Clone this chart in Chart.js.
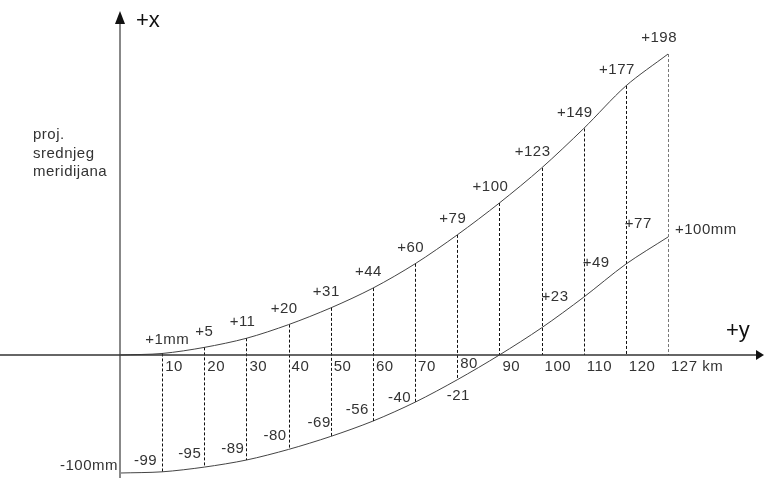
<!DOCTYPE html>
<html>
<head>
<meta charset="utf-8">
<script src="https://cdn.jsdelivr.net/npm/chart.js@4"></script>
<style>
  html, body { margin: 0; padding: 0; background: #fff; }
  #wrap { width: 764px; height: 478px; }
</style>
</head>
<body>
<div id="wrap"><canvas id="myChart" width="764" height="478"></canvas></div>
<script>
// udaljenost od srednjeg meridijana (km)
const udaljenost = ['0', '10', '20', '30', '40', '50', '60', '70', '80', '90', '100', '110', '120', '127'];
// gornja krivulja (mm)
const gornja = [0, 1, 5, 11, 20, 31, 44, 60, 79, 100, 123, 149, 177, 198];
// donja krivulja (mm)
const donja = [-100, -99, -95, -89, -80, -69, -56, -40, -21, 0, 23, 49, 77, 100];
// natpisi
const natpisiGornja = ['', '+1mm', '+5', '+11', '+20', '+31', '+44', '+60', '+79', '+100', '+123', '+149', '+177', '+198'];
const natpisiDonja = ['-100mm', '-99', '-95', '-89', '-80', '-69', '-56', '-40', '-21', '', '+23', '+49', '+77', '+100mm'];
const natpisiOsi = ['', '10', '20', '30', '40', '50', '60', '70', '80', '90', '100', '110', '120', '127 km'];

// smjestaj natpisa donje krivulje: [poravnanje, dx, dy]
const smjestajDonja = [
    ['right', -2, -7], ['right', -5, -11], ['right', -3, -13], ['right', -2, -11],
    ['right', -2, -14], ['right', 0, -14], ['right', -4, -11], ['right', -4, -4],
    ['center', 1, 16], ['left', 0, 0], ['left', 0, -31], ['left', -1, -34],
    ['left', -1, -40], ['left', 7, -7]
];

const FONT = '15px "Liberation Sans", Arial, sans-serif';
const BOJA_TEKSTA = '#333';

// crta osi, isprekidane linije i natpise
const skica = {
    id: 'skica',
    afterDatasetsDraw(chart) {
        const ctx = chart.ctx;
        const xs = chart.scales.x;
        const ys = chart.scales.y;
        const ys2 = chart.scales.y2;
        const x0 = xs.getPixelForValue(0);
        const y0 = ys.getPixelForValue(0);

        ctx.save();

        // isprekidane okomice
        ctx.lineWidth = 1;
        ctx.setLineDash([3, 2]);
        for (let i = 1; i < udaljenost.length; i++) {
            const x = Math.round(xs.getPixelForValue(i)) + 0.5;
            ctx.strokeStyle = i === udaljenost.length - 1 ? '#777' : '#111';
            ctx.beginPath();
            ctx.moveTo(x, ys.getPixelForValue(gornja[i]));
            ctx.lineTo(x, ys2.getPixelForValue(Math.min(donja[i], 0)));
            ctx.stroke();
        }
        ctx.setLineDash([]);

        // os +x (okomita)
        ctx.strokeStyle = '#888';
        ctx.lineWidth = 2;
        ctx.beginPath();
        ctx.moveTo(x0, chart.height);
        ctx.lineTo(x0, 20);
        ctx.stroke();
        ctx.fillStyle = '#111';
        ctx.beginPath();
        ctx.moveTo(x0, 11);
        ctx.lineTo(x0 - 5, 24);
        ctx.lineTo(x0 + 5, 24);
        ctx.closePath();
        ctx.fill();

        // os +y (vodoravna)
        ctx.strokeStyle = '#333';
        ctx.lineWidth = 1.5;
        ctx.beginPath();
        ctx.moveTo(0, y0);
        ctx.lineTo(chart.width - 6, y0);
        ctx.stroke();
        ctx.beginPath();
        ctx.moveTo(chart.width, y0);
        ctx.lineTo(chart.width - 8, y0 - 5);
        ctx.lineTo(chart.width - 8, y0 + 5);
        ctx.closePath();
        ctx.fill();

        ctx.fillStyle = BOJA_TEKSTA;
        ctx.font = FONT;
        ctx.letterSpacing = '0.5px';
        ctx.textBaseline = 'middle';

        // oznake na osi
        ctx.textAlign = 'left';
        natpisiOsi.forEach((t, i) => {
            if (!t) return;
            ctx.fillText(t, xs.getPixelForValue(i) + 3, y0 + (i === 8 ? 9 : 12));
        });

        // natpisi gornje krivulje
        natpisiGornja.forEach((t, i) => {
            if (!t) return;
            const px = xs.getPixelForValue(i);
            const py = ys.getPixelForValue(gornja[i]);
            if (i === 1) {
                ctx.textAlign = 'left';
                ctx.fillText(t, px - 17, py - 14);
            } else {
                ctx.textAlign = 'right';
                ctx.fillText(t, px + 9, py - 16);
            }
        });

        // natpisi donje krivulje
        natpisiDonja.forEach((t, i) => {
            if (!t) return;
            const px = xs.getPixelForValue(i);
            const py = ys2.getPixelForValue(donja[i]);
            const [poravnanje, dx, dy] = smjestajDonja[i];
            ctx.textAlign = poravnanje;
            ctx.fillText(t, px + dx, py + dy);
        });

        // nazivi osi
        ctx.textAlign = 'left';
        ctx.letterSpacing = '0px';
        ctx.fillStyle = '#111';
        ctx.font = '22px "Liberation Sans", Arial, sans-serif';
        ctx.fillText('+x', x0 + 16, 21);
        ctx.fillText('+y', 726, 331);

        ctx.fillStyle = BOJA_TEKSTA;
        ctx.font = FONT;
        ctx.letterSpacing = '0.5px';
        ['proj.', 'srednjeg', 'meridijana'].forEach((t, i) => {
            ctx.fillText(t, 33, 135 + i * 18.5);
        });

        ctx.restore();
    }
};

const ctx = document.getElementById('myChart').getContext('2d');
const myChart = new Chart(ctx, {
    type: 'line',
    data: {
        labels: udaljenost,
        datasets: [{
            label: 'gornja',
            data: gornja,
            yAxisID: 'y',
            borderColor: '#444',
            borderWidth: 1,
            pointRadius: 0,
            tension: 0.3,
            fill: false
        }, {
            label: 'donja',
            data: donja,
            yAxisID: 'y2',
            borderColor: '#444',
            borderWidth: 1,
            pointRadius: 0,
            tension: 0.3,
            fill: false
        }]
    },
    options: {
        responsive: false,
        animation: false,
        devicePixelRatio: 1,
        layout: { padding: { left: 120, right: 96, top: 0, bottom: 0 } },
        plugins: {
            legend: { display: false },
            tooltip: { enabled: false }
        },
        scales: {
            x: { type: 'category', offset: false, display: false },
            y: { type: 'linear', min: -123 / 1.52, max: 355 / 1.52, display: false },
            y2: { type: 'linear', min: -123 / 1.18, max: 355 / 1.18, display: false }
        }
    },
    plugins: [skica]
});
</script>
</body>
</html>
